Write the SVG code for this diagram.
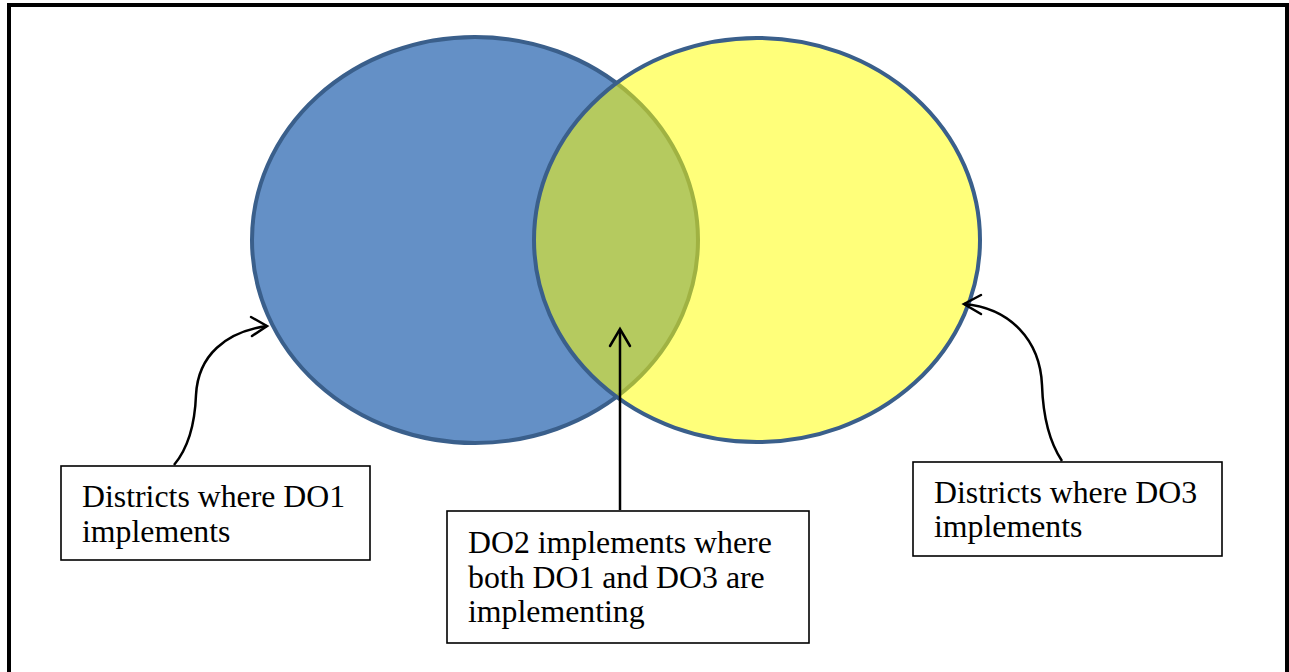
<svg xmlns="http://www.w3.org/2000/svg" width="1289" height="672" viewBox="0 0 1289 672">
<style>
.frame{fill:none;stroke:#000;stroke-width:4}
.circ{stroke:#3A5F8B;stroke-width:4}
.box{fill:#fff;stroke:#000;stroke-width:1.6}
.lbl{font-family:"Liberation Serif","Times New Roman",serif;font-size:31.8px;fill:#000}
.con{fill:none;stroke:#000;stroke-width:2.5}
.head{fill:none;stroke:#000;stroke-width:2.5;stroke-linecap:round;stroke-linejoin:miter}
</style>
<rect width="1289" height="672" fill="#fff"/>
<rect class="frame" x="9" y="5" width="1278" height="700"/>
<g id="do1-circle">
<ellipse class="circ" cx="475" cy="240" rx="223" ry="203" fill="#6490C6"/>
</g>
<g id="do3-circle">
<ellipse class="circ" cx="757" cy="240" rx="223" ry="202" fill="#FFFF00" fill-opacity="0.52"/>
</g>
<g id="connectors">
<path class="con" d="M174,465 C190,446 195,422 196,395 C198,355 226,332 267,326"/>
<path class="head" d="M251,317 L267,326 L252,336"/>
<path class="con" d="M620,510 L620,330"/>
<path class="head" d="M610,346 L620,329 L630,346"/>
<path class="con" d="M1062,461 C1048,440 1043,415 1042,385 C1040,340 1010,308 964,304"/>
<path class="head" d="M981,295 L964,304 L981,314"/>
</g>
<g id="box-do1">
<rect class="box" x="61" y="466" width="309" height="94"/>
<text class="lbl" x="82" y="507">Districts where DO1</text>
<text class="lbl" x="82" y="542">implements</text>
</g>
<g id="box-do2">
<rect class="box" x="447" y="511" width="362" height="132"/>
<text class="lbl" x="468" y="553">DO2 implements where</text>
<text class="lbl" x="468" y="588">both DO1 and DO3 are</text>
<text class="lbl" x="468" y="622">implementing</text>
</g>
<g id="box-do3">
<rect class="box" x="913" y="462" width="309" height="94"/>
<text class="lbl" x="934" y="503">Districts where DO3</text>
<text class="lbl" x="934" y="537">implements</text>
</g>
</svg>
